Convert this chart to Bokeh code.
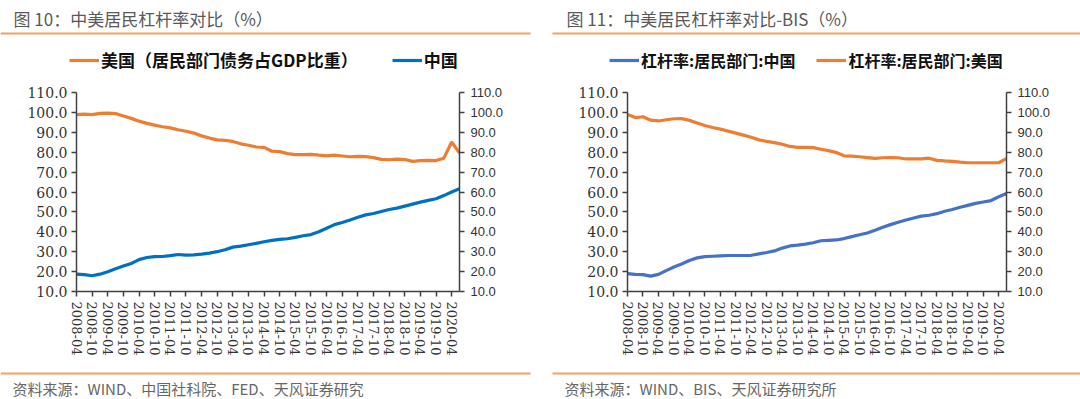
from bokeh.plotting import figure
from bokeh.models import (Range1d, LinearAxis, FixedTicker, NumeralTickFormatter,
                          Label, BoxAnnotation, Legend, LegendItem)
from bokeh.layouts import row, column
from bokeh.embed import file_html
from bokeh.resources import INLINE

# ---------------- data ----------------
tick_labels = ["2008-04", "2008-10", "2009-04", "2009-10", "2010-04", "2010-10",
               "2011-04", "2011-10", "2012-04", "2012-10", "2013-04", "2013-10",
               "2014-04", "2014-10", "2015-04", "2015-10", "2016-04", "2016-10",
               "2017-04", "2017-10", "2018-04", "2018-10", "2019-04", "2019-10",
               "2020-04"]

# Panel 1 (quarterly)
us_fed = [98.9, 99.1, 98.9, 99.5, 99.6, 99.4, 98.2, 97.0, 95.6, 94.5,
          93.6, 92.8, 92.2, 91.3, 90.5, 89.6, 88.2, 87.1, 86.2, 85.9,
          85.4, 84.2, 83.5, 82.6, 82.4, 80.5, 80.3, 79.3, 78.8, 78.8,
          78.9, 78.5, 78.2, 78.5, 78.1, 77.7, 77.9, 77.8, 77.3, 76.4,
          76.2, 76.5, 76.3, 75.4, 75.8, 75.9, 75.8, 77.0, 85.1, 79.6]
cn_cass = [18.7, 18.5, 17.9, 18.7, 19.9, 21.4, 22.8, 24.1, 26.0, 27.1,
           27.5, 27.6, 28.0, 28.6, 28.3, 28.4, 28.8, 29.3, 30.0, 31.0,
           32.3, 32.8, 33.5, 34.2, 35.0, 35.7, 36.2, 36.5, 37.2, 38.0,
           38.6, 40.0, 41.8, 43.6, 44.7, 45.9, 47.3, 48.5, 49.2, 50.2,
           51.2, 51.9, 52.9, 53.9, 54.9, 55.8, 56.6, 58.2, 60.0, 61.6]

# Panel 2 (BIS, quarterly)
cn_bis = [19.0, 18.6, 18.5, 17.7, 18.6, 20.5, 22.3, 23.8, 25.6, 26.9,
          27.5, 27.7, 27.9, 28.1, 28.1, 28.1, 28.2, 28.9, 29.6, 30.4,
          31.8, 32.9, 33.3, 33.8, 34.5, 35.5, 35.7, 35.9, 36.6, 37.6,
          38.5, 39.4, 40.8, 42.3, 43.6, 44.8, 45.9, 46.9, 47.9, 48.3,
          49.1, 50.3, 51.2, 52.3, 53.3, 54.3, 55.0, 55.7, 57.6, 59.2]
us_bis = [99.0, 97.4, 97.8, 96.1, 95.7, 96.3, 96.8, 96.9, 96.0, 94.7,
          93.4, 92.4, 91.6, 90.6, 89.6, 88.6, 87.5, 86.2, 85.4, 84.8,
          84.0, 82.9, 82.4, 82.4, 82.3, 81.5, 80.8, 79.8, 78.2, 78.0,
          77.7, 77.3, 76.9, 77.2, 77.3, 77.2, 76.6, 76.6, 76.6, 77.0,
          75.9, 75.6, 75.4, 75.0, 74.7, 74.7, 74.7, 74.7, 74.7, 76.8]

title1 = "图 10：中美居民杠杆率对比（%）"
title2 = "图 11：中美居民杠杆率对比-BIS（%）"
legend1 = ["美国（居民部门债务占GDP比重）", "中国"]
legend2 = ["杠杆率:居民部门:中国", "杠杆率:居民部门:美国"]
source1 = "资料来源：WIND、中国社科院、FED、天风证券研究"
source2 = "资料来源：WIND、BIS、天风证券研究所"

ORANGE = "#ED7D31"
BLUE1 = "#0070C0"
BLUE2 = "#4472C4"
RULE = "#F4A15D"
CJK = "Noto Sans CJK SC"
AX = "#404040"
W = 540
H_HEAD = 84
H_MAIN = 277
H_FOOT = 38
NAN = float("nan")


def blank(height):
    f = figure(width=W, height=height, x_range=Range1d(0, W),
               y_range=Range1d(height, 0), output_backend="svg",
               toolbar_location=None, min_border=0, title=None,
               x_axis_location=None, y_axis_location=None, frame_align=False)
    f.outline_line_color = None
    f.xgrid.visible = False
    f.ygrid.visible = False
    return f


def header(title, title_x, rule_l, rule_r, colors, labels, leg_x, leg_spacing, leg_font):
    h = blank(H_HEAD)
    h.add_layout(Label(x=title_x, y=18, text=title, text_font=CJK,
                       text_font_size="17px", text_color="#595959",
                       text_baseline="middle", text_align="left"))
    h.add_layout(BoxAnnotation(left=rule_l, right=rule_r, top=32, bottom=34,
                               fill_color=RULE, fill_alpha=1, line_alpha=0))
    items = []
    for c, lab in zip(colors, labels):
        r = h.line(x=[NAN], y=[NAN], line_color=c, line_width=3.2)
        items.append(LegendItem(label=lab, renderers=[r]))
    leg = Legend(items=items, orientation="horizontal", location=(leg_x, 12),
                 border_line_alpha=0, background_fill_alpha=0, padding=0,
                 margin=0, spacing=leg_spacing, glyph_width=30, glyph_height=20,
                 label_height=20, label_standoff=2, label_text_font=CJK,
                 label_text_font_style="bold", label_text_font_size=leg_font,
                 label_text_color="#111111")
    h.add_layout(leg)
    return h


def footer(source, src_x, rule_l, rule_r):
    f = blank(H_FOOT)
    f.add_layout(BoxAnnotation(left=rule_l, right=rule_r, top=11, bottom=13,
                               fill_color=RULE, fill_alpha=1, line_alpha=0))
    f.add_layout(Label(x=src_x, y=27, text=source, text_font=CJK,
                       text_font_size="15px", text_color="#666666",
                       text_baseline="middle", text_align="left"))
    return f


def main(series, colors, mb_left, mb_right):
    n = len(series[0])
    xs = list(range(n))
    p = figure(width=W, height=H_MAIN, x_range=Range1d(0, n - 1),
               y_range=Range1d(10, 110), output_backend="svg",
               toolbar_location=None, min_border_left=mb_left,
               min_border_right=mb_right, min_border_top=8,
               min_border_bottom=70, title=None, frame_align=False)
    p.outline_line_color = None
    p.xgrid.visible = False
    p.ygrid.visible = False

    p.extra_y_ranges = {"r": Range1d(10, 110)}
    raxis = LinearAxis(y_range_name="r")
    p.add_layout(raxis, "right")

    for ax in [p.yaxis[0], raxis]:
        ax.ticker = FixedTicker(ticks=list(range(10, 111, 10)))
        ax.formatter = NumeralTickFormatter(format="0.0")
        ax.minor_tick_line_color = None
        ax.axis_line_color = AX
        ax.axis_line_width = 1.5
        ax.major_tick_line_color = AX
        ax.major_tick_line_width = 1.5
        ax.major_tick_in = 0
        ax.major_tick_out = 5
        ax.major_label_standoff = 4
    p.yaxis[0].major_label_text_font = "DejaVu Serif"
    p.yaxis[0].major_label_text_font_size = "14px"
    p.yaxis[0].major_label_text_color = "#333333"
    raxis.major_label_text_font = "Liberation Sans"
    raxis.major_label_text_font_size = "13px"
    raxis.major_label_text_color = "#333333"
    raxis.major_label_standoff = 6

    xa = p.xaxis[0]
    xa.ticker = FixedTicker(ticks=list(range(0, n - 1, 2)))
    xa.major_label_overrides = {i * 2: lab for i, lab in enumerate(tick_labels)}
    xa.major_label_orientation = "vertical"
    xa.major_label_text_font = "DejaVu Serif"
    xa.major_label_text_font_size = "13px"
    xa.major_label_text_color = "#333333"
    xa.minor_tick_line_color = None
    xa.axis_line_color = AX
    xa.axis_line_width = 1.5
    xa.major_tick_line_color = AX
    xa.major_tick_line_width = 1.5
    xa.major_tick_in = 0
    xa.major_tick_out = 5
    xa.major_label_standoff = 5

    for s, c in zip(series, colors):
        p.line(xs, s, line_color=c, line_width=3.2)
    return p


h1 = header(title1, 13, 0, 530, [ORANGE, BLUE1], legend1, 69, 34, "17px")
m1 = main([us_fed, cn_cass], [ORANGE, BLUE1], 76, 81)
f1 = footer(source1, 12, 0, 530)

h2 = header(title2, 26, 12, 540, [BLUE2, ORANGE], legend2, 69, 21, "16px")
m2 = main([cn_bis, us_bis], [BLUE2, ORANGE], 87, 74)
f2 = footer(source2, 24, 12, 540)

layout = row(column(h1, m1, f1), column(h2, m2, f2))
open("out.html", "w").write(file_html(layout, INLINE))
